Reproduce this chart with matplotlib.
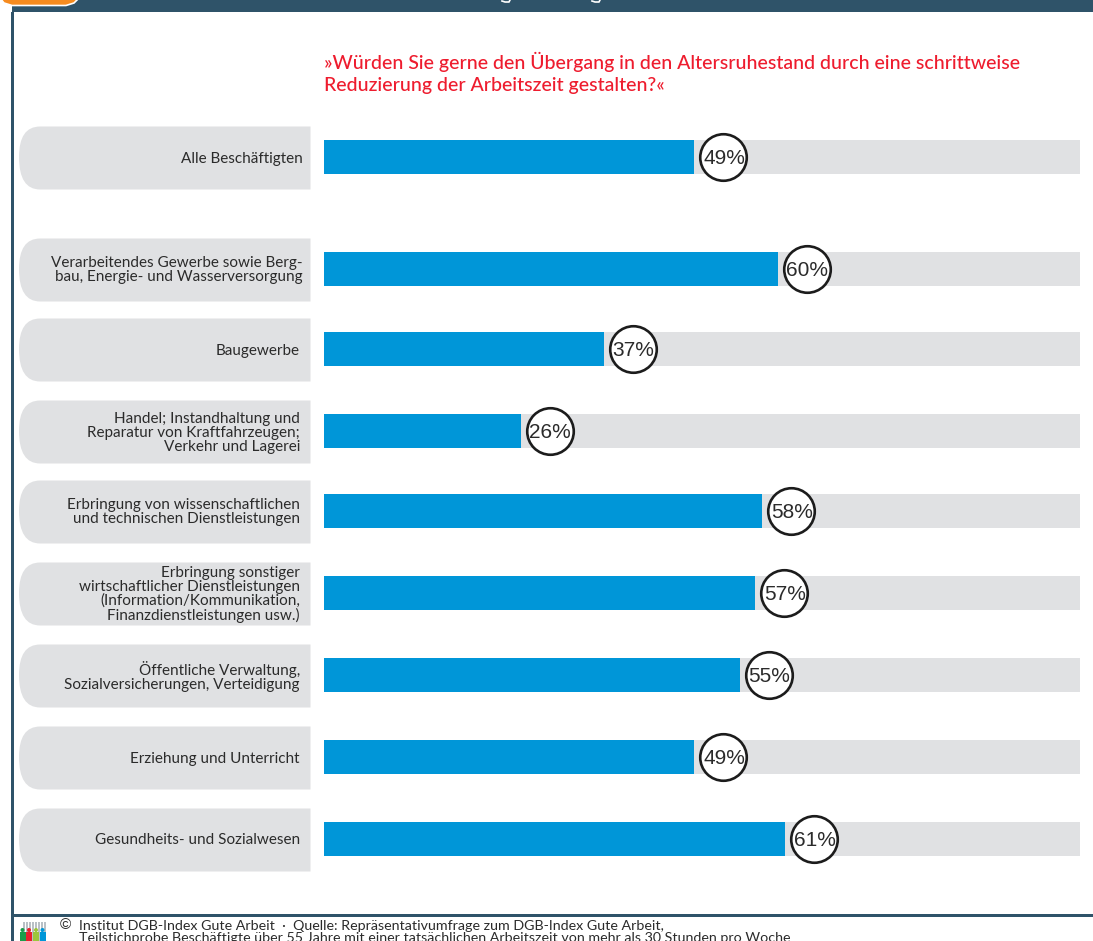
#!/usr/bin/env python
"""Horizontal percentage bars by sector, DGB-Index Gute Arbeit."""

import matplotlib

matplotlib.use("Agg")
import matplotlib.pyplot as plt
from matplotlib.patches import Circle, PathPatch, Rectangle
from matplotlib.path import Path

W, H = 1093, 941

categories = [
    "Alle Beschäftigten",
    "Verarbeitendes Gewerbe sowie Berg-\nbau, Energie- und Wasserversorgung",
    "Baugewerbe",
    "Handel; Instandhaltung und\nReparatur von Kraftfahrzeugen;\nVerkehr und Lagerei",
    "Erbringung von wissenschaftlichen\nund technischen Dienstleistungen",
    "Erbringung sonstiger\nwirtschaftlicher Dienstleistungen\n(Information/Kommunikation,\nFinanzdienstleistungen usw.)",
    "Öffentliche Verwaltung,\nSozialversicherungen, Verteidigung",
    "Erziehung und Unterricht",
    "Gesundheits- und Sozialwesen",
]
values = [49, 60, 37, 26, 58, 57, 55, 49, 61]

TITLE = "»Würden Sie gerne den Übergang in den Altersruhestand durch eine schrittweise\nReduzierung der Arbeitszeit gestalten?«"
FOOT_1 = "Institut DGB-Index Gute Arbeit  ·  Quelle: Repräsentativumfrage zum DGB-Index Gute Arbeit,"
FOOT_2 = "Teilstichprobe Beschäftigte über 55 Jahre mit einer tatsächlichen Arbeitszeit von mehr als 30 Stunden pro Woche"

# layout, in pixels of the original page
row_centres = [157, 269, 349, 431, 511, 593, 675, 757, 839]

BLUE = "#0096d8"
GREY = "#e0e1e3"
FRAME = "#2f5369"
RED = "#ee1c2e"
INK = "#2b2b2b"
FONT = "Lato"

fig = plt.figure(figsize=(W / 100, H / 100), dpi=100, facecolor="white")

# page furniture, in pixel coordinates
page = fig.add_axes([0, 0, 1, 1])
page.set_xlim(0, W)
page.set_ylim(H, 0)
page.axis("off")
page.add_patch(Rectangle((12, 0), W, 12, fc=FRAME, ec="none"))
page.add_patch(Rectangle((11, 12), 2.5, H, fc=FRAME, ec="none"))
page.add_patch(Rectangle((13, 914), W, 2.5, fc=FRAME, ec="none"))
page.add_patch(PathPatch(
    Path([(0, -2), (79, -2), (74, 3), (66, 5.5), (12, 5.5), (4, 3), (0, -2)],
         [Path.MOVETO] + [Path.LINETO] * 5 + [Path.CLOSEPOLY]),
    fc="#f68b1f", ec="white", lw=1.2))
# tails of the header line, which the crop cuts off
for x0 in (502, 592):
    page.plot([x0, x0 + 3, x0 + 7, x0 + 8], [1, 2, 2, 0], color="white", lw=1.2)

for c in row_centres:
    top, bot = c - 30.5, c + 32.5
    verts = [(310.5, top), (40, top), (19, top), (19, c), (19, bot), (40, bot), (310.5, bot), (310.5, top)]
    codes = [Path.MOVETO, Path.LINETO, Path.CURVE3, Path.CURVE3, Path.CURVE3, Path.CURVE3, Path.LINETO, Path.CLOSEPOLY]
    page.add_patch(PathPatch(Path(verts, codes), fc=GREY, ec="none"))

# bars: x axis is percent, y axis is pixels so rows can sit unevenly
ax = fig.add_axes([324 / W, 0, (1080 - 324) / W, 1])
ax.set_xlim(0, 100)
ax.set_ylim(H, 0)
ax.axis("off")
ax.patch.set_alpha(0)
ax.barh(row_centres, [100] * len(row_centres), height=34, color=GREY)
ax.barh(row_centres, values, height=34, color=BLUE)

offset = 29 / 7.56
ax.scatter([v + offset for v in values], row_centres, s=33.5**2, fc="white", ec="#1c1c1c", lw=1.9, zorder=3)
for v, r in zip(values, row_centres):
    ax.text(v + offset + 0.1, r + 1.5, f"{v}%", ha="center", va="center", fontsize=15,
            family="Liberation Sans", color=INK, zorder=4)

for cat, r in zip(categories, row_centres):
    x = 303 if r < 300 else 300
    page.text(x, r + 1.5, cat, ha="right", va="center", fontsize=11, family=FONT,
              color=INK, linespacing=1.0)

page.text(324, 73, TITLE, ha="left", va="center", fontsize=14.05, family=FONT,
          weight="medium", color=RED, linespacing=1.32)

page.text(60, 925, "©", ha="left", va="center", fontsize=11, family="Liberation Sans", color=INK)
page.text(79, 925.5, FOOT_1, ha="left", va="center", fontsize=10.25, family=FONT, color=INK)
page.text(79, 938, FOOT_2, ha="left", va="center", fontsize=10.25, family=FONT, color=INK)

# small logo beside the footer
for x in range(23, 46, 3):
    page.add_patch(Rectangle((x, 922), 1.6, 19, fc="#b9c0c6", ec="none"))
for x, col in zip([19.5, 26, 33, 39.5], ["#1a9e4b", "#e8212e", "#9cc63b", "#0096d8"]):
    page.add_patch(Rectangle((x, 932), 6, 9, fc=col, ec="none"))
    page.add_patch(Circle((x + 3, 930), 2, fc=col, ec="none"))

fig.savefig("out.png", dpi=100)
